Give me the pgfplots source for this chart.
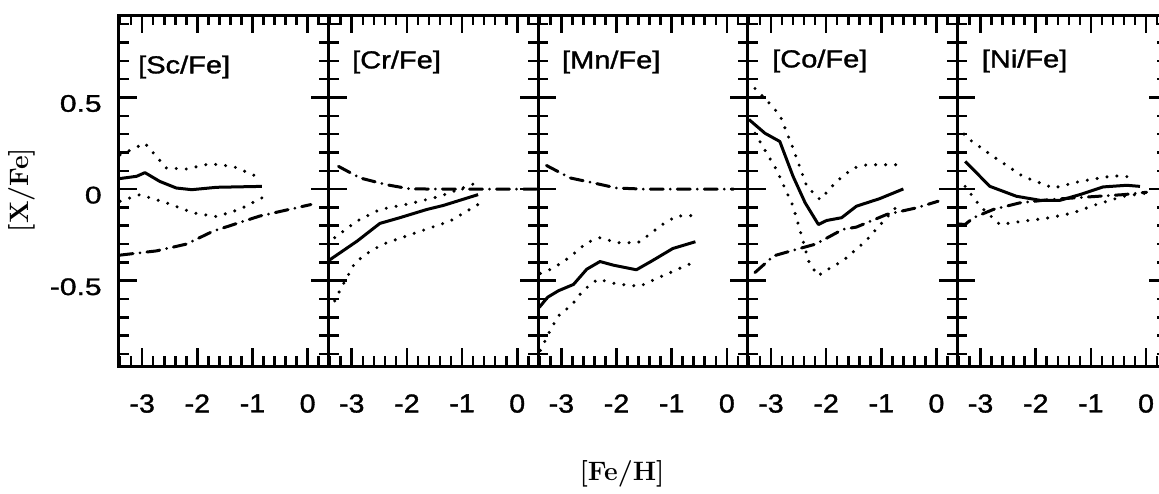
\documentclass[border=0pt]{standalone}
\usepackage{fontspec}
\usepackage{graphicx}
\usepackage{pgfplots}
\pgfplotsset{compat=1.18}
\newfontfamily\hv{Liberation Sans}[FakeBold=1.2]
\newcommand\xl[1]{\scalebox{1.1}[1]{#1}}
\newcommand\yl[1]{\scalebox{1.25}[1]{#1}}
\newcommand\pl[1]{\scalebox{1.18}[1]{#1}}

\tikzset{
  mean/.style={black, line width=1.5pt, line join=round},
  bound/.style={black, line width=1.7pt, line cap=round, dash pattern=on 0pt off 5pt},
  model/.style={black, line width=1.5pt, line cap=round, dash pattern=on 6.5pt off 3.5pt on 0pt off 3.5pt},
  plab/.style={anchor=west, inner sep=0pt, font=\hv\fontsize{12.3}{13}\selectfont},
}
\pgfplotsset{
  panel/.style={
    scale only axis, width=104.8pt, height=175.5pt,
    anchor=south west,
    xmin=-3.42, xmax=0.38, ymin=-0.965, ymax=0.95,
    xtick={-3,-2,-1,0},
    xticklabels={\xl{-3},\xl{-2},\xl{-1},\xl{0}},
    minor xtick={-3.4,-3.2,-2.8,-2.6,-2.4,-2.2,-1.8,-1.6,-1.4,-1.2,-0.8,-0.6,-0.4,-0.2,0.2},
    ytick={-0.5,0,0.5},
    minor ytick={-0.9,-0.8,-0.7,-0.6,-0.4,-0.3,-0.2,-0.1,0.1,0.2,0.3,0.4,0.6,0.7,0.8,0.9},
    yticklabels={,,},
    tick align=inside, tick pos=both,
    major tick length=9pt, minor tick length=5pt,
    axis line style={line width=1.5pt},
    tick style={line width=1.3pt, black},
    xticklabel style={font=\hv\fontsize{13}{14}\selectfont, anchor=north, inner sep=0pt, yshift=-14pt},
  },
}

\begin{document}
\begin{tikzpicture}

% [Sc/Fe]
\begin{axis}[panel, at={(0pt,0pt)},
  yticklabels={\yl{-0.5}\hspace{7pt},\yl{0},\yl{0.5}\hspace{3.5pt}},
  yticklabel style={font=\hv\fontsize{12}{13}\selectfont, anchor=east, inner sep=0pt, xshift=-8.5pt, yshift=-3pt}]
\addplot[mean] coordinates {(-3.42,0.057) (-3.10,0.07) (-2.95,0.09) (-2.68,0.042) (-2.38,0.006) (-2.10,-0.003) (-1.65,0.01) (-0.83,0.015)};
\addplot[bound] coordinates {(-3.40,0.187) (-2.95,0.25) (-2.56,0.115) (-2.20,0.11) (-1.77,0.138) (-1.35,0.124) (-0.93,0.07)};
\addplot[bound] coordinates {(-3.40,-0.066) (-3.04,-0.03) (-2.56,-0.075) (-2.07,-0.13) (-1.65,-0.15) (-1.23,-0.11) (-0.83,-0.048)};
\addplot[model] coordinates {(-3.40,-0.36) (-2.74,-0.337) (-2.20,-0.30) (-1.71,-0.229) (-0.87,-0.147) (0.06,-0.084)};
\node[plab] at (rel axis cs:0,1) [xshift=9.4pt, yshift=-26pt] {\pl{[Sc/Fe]}};
\end{axis}

% [Cr/Fe]
\begin{axis}[panel, at={(104.8pt,0pt)}]
\addplot[mean] coordinates {(-3.42,-0.39) (-2.90,-0.283) (-2.67,-0.229) (-2.49,-0.187) (-2.13,-0.156) (-1.64,-0.111) (-1.34,-0.089) (-0.71,-0.03)};
\addplot[bound] coordinates {(-3.31,-0.265) (-2.91,-0.175) (-2.49,-0.111) (-1.94,-0.079) (-1.40,-0.039) (-0.74,0.034)};
\addplot[bound] coordinates {(-3.31,-0.61) (-3.21,-0.55) (-2.94,-0.40) (-2.67,-0.34) (-2.43,-0.30) (-1.83,-0.237) (-1.22,-0.175) (-0.71,-0.084)};
\addplot[model] coordinates {(-3.24,0.124) (-2.85,0.061) (-2.37,0.024) (-1.94,0.001) (-1.0,0.0) (0.38,0.0)};
\node[plab] at (rel axis cs:0,1) [xshift=11.6pt, yshift=-23.5pt] {\pl{[Cr/Fe]}};
\end{axis}

% [Mn/Fe]
\begin{axis}[panel, at={(209.6pt,0pt)}]
\addplot[mean] coordinates {(-3.40,-0.645) (-3.25,-0.59) (-3.05,-0.554) (-2.78,-0.52) (-2.54,-0.437) (-2.30,-0.395) (-2.055,-0.415) (-1.64,-0.44) (-1.36,-0.392) (-0.98,-0.324) (-0.57,-0.287)};
\addplot[bound] coordinates {(-3.38,-0.46) (-3.25,-0.446) (-2.98,-0.40) (-2.75,-0.346) (-2.54,-0.292) (-2.30,-0.265) (-1.99,-0.292) (-1.61,-0.292) (-1.36,-0.238) (-1.21,-0.20) (-0.91,-0.147) (-0.61,-0.144)};
\addplot[bound] coordinates {(-3.38,-0.88) (-3.32,-0.843) (-3.19,-0.762) (-3.025,-0.68) (-2.82,-0.636) (-2.61,-0.554) (-2.34,-0.491) (-1.99,-0.518) (-1.58,-0.53) (-1.23,-0.482) (-0.61,-0.40)};
\addplot[model] coordinates {(-3.27,0.129) (-2.84,0.061) (-2.42,0.034) (-2.00,0.006) (-1.5,0.0) (0.12,0.0)};
\node[plab] at (rel axis cs:0,1) [xshift=11.7pt, yshift=-23.5pt] {\pl{[Mn/Fe]}};
\end{axis}

% [Co/Fe]
\begin{axis}[panel, at={(314.4pt,0pt)}]
\addplot[mean] coordinates {(-3.40,0.38) (-3.11,0.305) (-2.84,0.26) (-2.60,0.07) (-2.38,-0.075) (-2.14,-0.193) (-1.99,-0.171) (-1.72,-0.156) (-1.45,-0.093) (-1.03,-0.052) (-0.60,0.001)};
\addplot[bound] coordinates {(-3.29,0.549) (-3.08,0.485) (-2.84,0.404) (-2.60,0.223) (-2.35,0.015) (-2.11,-0.057) (-1.81,0.042) (-1.51,0.115) (-1.26,0.133) (-0.63,0.133)};
\addplot[bound] coordinates {(-3.29,0.305) (-2.90,0.106) (-2.60,-0.093) (-2.41,-0.292) (-2.32,-0.392) (-2.15,-0.473) (-1.91,-0.427) (-1.70,-0.392) (-1.49,-0.337) (-1.28,-0.283) (-1.15,-0.238) (-0.66,-0.075)};
\addplot[model] coordinates {(-3.29,-0.455) (-2.95,-0.364) (-2.53,-0.328) (-2.19,-0.30) (-1.70,-0.22) (-1.45,-0.207) (-0.90,-0.138) (-0.36,-0.102) (0.03,-0.066)};
\node[plab] at (rel axis cs:0,1) [xshift=12pt, yshift=-23pt] {\pl{[Co/Fe]}};
\end{axis}

% [Ni/Fe]
\begin{axis}[panel, at={(419.2pt,0pt)}]
\addplot[mean] coordinates {(-3.28,0.151) (-2.83,0.015) (-2.35,-0.039) (-1.92,-0.061) (-1.56,-0.061) (-1.20,-0.03) (-0.78,0.012) (-0.35,0.021) (-0.11,0.015)};
\addplot[bound] coordinates {(-3.30,0.30) (-3.19,0.268) (-2.77,0.178) (-2.23,0.069) (-1.68,0.006) (-1.20,0.042) (-0.59,0.073) (-0.23,0.066)};
\addplot[bound] coordinates {(-3.28,0.015) (-3.01,-0.093) (-2.65,-0.193) (-2.23,-0.175) (-1.74,-0.156) (-1.32,-0.129) (-0.90,-0.084) (-0.41,-0.039) (0.01,-0.021)};
\addplot[model] coordinates {(-3.40,-0.19) (-3.28,-0.193) (-3.13,-0.156) (-2.77,-0.111) (-2.29,-0.075) (-1.74,-0.057) (-1.02,-0.042) (-0.41,-0.03) (0.01,-0.017)};
\node[plab] at (rel axis cs:0,1) [xshift=12pt, yshift=-23pt] {\pl{[Ni/Fe]}};
\end{axis}

\node[rotate=90, inner sep=0pt, font=\fontsize{13.3}{15}\selectfont\bfseries] at (-48.6pt,88pt) {[X/Fe]};
\node[inner sep=0pt, font=\fontsize{13.3}{15}\selectfont\bfseries] at (251.5pt,-54pt) {[Fe/H]};

\pgfresetboundingbox
\useasboundingbox (-59.5pt,-63.5pt) rectangle (520pt,183pt);
\end{tikzpicture}
\end{document}
